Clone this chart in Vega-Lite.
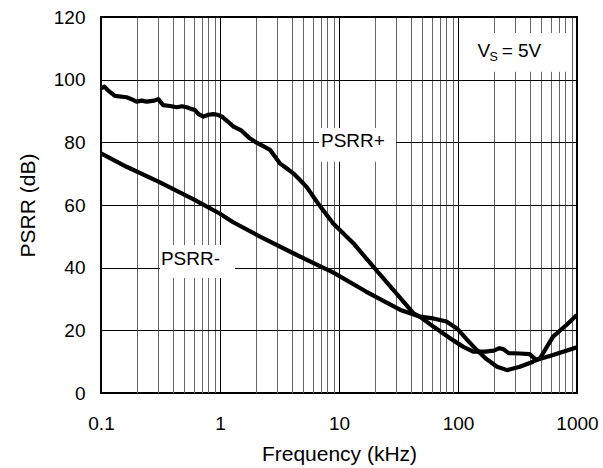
{
  "$schema": "https://vega.github.io/schema/vega-lite/v6.json",
  "width": 476,
  "height": 376,
  "autosize": {"type": "none"},
  "padding": {"left": 101, "top": 17, "right": 26, "bottom": 75},
  "background": "white",
  "config": {
    "view": {"stroke": "black", "strokeWidth": 2},
    "font": "Liberation Sans",
    "axis": {"labelFont": "Liberation Sans", "titleFont": "Liberation Sans", "labelColor": "black", "titleColor": "black", "titleFontWeight": "normal"}
  },
  "datasets": {
    "curves": [
      {"series": "PSRR+", "f": 0.1, "db": 97.2},
      {"series": "PSRR+", "f": 0.107, "db": 97.8},
      {"series": "PSRR+", "f": 0.115, "db": 96.5},
      {"series": "PSRR+", "f": 0.131, "db": 94.8},
      {"series": "PSRR+", "f": 0.164, "db": 94.4},
      {"series": "PSRR+", "f": 0.18, "db": 93.8},
      {"series": "PSRR+", "f": 0.199, "db": 93.0},
      {"series": "PSRR+", "f": 0.22, "db": 93.3},
      {"series": "PSRR+", "f": 0.242, "db": 93.0},
      {"series": "PSRR+", "f": 0.28, "db": 93.3},
      {"series": "PSRR+", "f": 0.303, "db": 93.8},
      {"series": "PSRR+", "f": 0.333, "db": 91.9},
      {"series": "PSRR+", "f": 0.38, "db": 91.6},
      {"series": "PSRR+", "f": 0.432, "db": 91.2},
      {"series": "PSRR+", "f": 0.48, "db": 91.5},
      {"series": "PSRR+", "f": 0.525, "db": 91.2},
      {"series": "PSRR+", "f": 0.58, "db": 90.6},
      {"series": "PSRR+", "f": 0.617, "db": 90.3},
      {"series": "PSRR+", "f": 0.66, "db": 89.0},
      {"series": "PSRR+", "f": 0.725, "db": 88.2},
      {"series": "PSRR+", "f": 0.8, "db": 88.8},
      {"series": "PSRR+", "f": 0.88, "db": 89.0},
      {"series": "PSRR+", "f": 0.95, "db": 88.8},
      {"series": "PSRR+", "f": 1.04, "db": 88.2},
      {"series": "PSRR+", "f": 1.15, "db": 86.8},
      {"series": "PSRR+", "f": 1.3, "db": 85.0},
      {"series": "PSRR+", "f": 1.52, "db": 83.7},
      {"series": "PSRR+", "f": 1.75, "db": 81.5},
      {"series": "PSRR+", "f": 2.03, "db": 79.9},
      {"series": "PSRR+", "f": 2.35, "db": 78.6},
      {"series": "PSRR+", "f": 2.63, "db": 77.6},
      {"series": "PSRR+", "f": 3.18, "db": 73.3},
      {"series": "PSRR+", "f": 3.6, "db": 71.8},
      {"series": "PSRR+", "f": 4.13, "db": 70.1},
      {"series": "PSRR+", "f": 4.7, "db": 68.0},
      {"series": "PSRR+", "f": 5.34, "db": 65.8},
      {"series": "PSRR+", "f": 6.67, "db": 60.5},
      {"series": "PSRR+", "f": 8.9, "db": 54.2},
      {"series": "PSRR+", "f": 13.2, "db": 47.8},
      {"series": "PSRR+", "f": 19.4, "db": 40.3},
      {"series": "PSRR+", "f": 28.6, "db": 32.9},
      {"series": "PSRR+", "f": 42.3, "db": 25.4},
      {"series": "PSRR+", "f": 47.7, "db": 24.4},
      {"series": "PSRR+", "f": 62, "db": 23.8},
      {"series": "PSRR+", "f": 80, "db": 22.8},
      {"series": "PSRR+", "f": 98, "db": 20.6},
      {"series": "PSRR+", "f": 120, "db": 16.9},
      {"series": "PSRR+", "f": 144, "db": 13.7},
      {"series": "PSRR+", "f": 170, "db": 11.1},
      {"series": "PSRR+", "f": 213, "db": 8.4},
      {"series": "PSRR+", "f": 259, "db": 7.3},
      {"series": "PSRR+", "f": 331, "db": 8.4},
      {"series": "PSRR+", "f": 427, "db": 10.0},
      {"series": "PSRR+", "f": 489, "db": 11.1},
      {"series": "PSRR+", "f": 629, "db": 18.0},
      {"series": "PSRR+", "f": 815, "db": 21.7},
      {"series": "PSRR+", "f": 1000, "db": 24.9},
      {"series": "PSRR-", "f": 0.1, "db": 76.5},
      {"series": "PSRR-", "f": 0.164, "db": 72.2},
      {"series": "PSRR-", "f": 0.313, "db": 67.2},
      {"series": "PSRR-", "f": 0.6, "db": 61.8},
      {"series": "PSRR-", "f": 1.0, "db": 57.2},
      {"series": "PSRR-", "f": 1.29, "db": 54.5},
      {"series": "PSRR-", "f": 2.17, "db": 49.9},
      {"series": "PSRR-", "f": 4.13, "db": 44.6},
      {"series": "PSRR-", "f": 6.9, "db": 40.5},
      {"series": "PSRR-", "f": 8.9, "db": 38.5},
      {"series": "PSRR-", "f": 17, "db": 32.3},
      {"series": "PSRR-", "f": 32.8, "db": 26.5},
      {"series": "PSRR-", "f": 47.7, "db": 24.4},
      {"series": "PSRR-", "f": 62, "db": 21.2},
      {"series": "PSRR-", "f": 85.8, "db": 17.5},
      {"series": "PSRR-", "f": 110, "db": 14.8},
      {"series": "PSRR-", "f": 134, "db": 13.2},
      {"series": "PSRR-", "f": 170, "db": 13.2},
      {"series": "PSRR-", "f": 200, "db": 13.5},
      {"series": "PSRR-", "f": 223, "db": 14.3},
      {"series": "PSRR-", "f": 240, "db": 14.0},
      {"series": "PSRR-", "f": 266, "db": 12.7},
      {"series": "PSRR-", "f": 330, "db": 12.6},
      {"series": "PSRR-", "f": 400, "db": 12.4},
      {"series": "PSRR-", "f": 456, "db": 10.5},
      {"series": "PSRR-", "f": 629, "db": 12.1},
      {"series": "PSRR-", "f": 1000, "db": 14.6}
    ],
    "boxes": [
      {"f": 126, "f2": 840, "db": 102.5, "db2": 114.9},
      {"f": 6.79, "f2": 30.1, "db": 73.8, "db2": 84.6},
      {"f": 0.313, "f2": 1.336, "db": 36.7, "db2": 47.2}
    ],
    "labels": [
      {"text": "PSRR+", "f": 7.06, "db": 80.3},
      {"text": "PSRR-", "f": 0.319, "db": 42.8},
      {"text": "V", "f": 146, "db": 109.3},
      {"text": "= 5V", "f": 232.8, "db": 109.3}
    ],
    "subs": [
      {"text": "S", "f": 184, "db": 107.2}
    ]
  },
  "encoding": {
    "x": {
      "field": "f",
      "type": "quantitative",
      "scale": {"type": "log", "domain": [0.1, 1000], "nice": false},
      "axis": {
        "title": "Frequency (kHz)",
        "titleFontSize": 21,
        "titlePadding": 10,
        "labelFontSize": 19,
        "labelPadding": 21,
        "labelFlush": false,
        "ticks": false,
        "tickSize": 0,
        "domain": false,
        "values": [0.1,0.2,0.3,0.4,0.5,0.6,0.7,0.8,0.9,1,2,3,4,5,6,7,8,9,10,20,30,40,50,60,70,80,90,100,200,300,400,500,600,700,800,900,1000],
        "labelExpr": "abs(log(datum.value)/LN10 - round(log(datum.value)/LN10)) < 0.000001 ? format(datum.value, '~g') : ''",
        "labelOverlap": false,
        "grid": true,
        "gridOpacity": 1,
        "gridWidth": 1,
        "gridColor": {
          "condition": {"test": "abs(log(datum.value)/LN10 - round(log(datum.value)/LN10)) < 0.000001", "value": "#000000"},
          "value": "#666666"
        }
      }
    },
    "y": {
      "field": "db",
      "type": "quantitative",
      "scale": {"domain": [0, 120], "nice": false},
      "axis": {
        "title": "PSRR (dB)",
        "titleFontSize": 21,
        "titlePadding": 15,
        "labelFontSize": 19,
        "labelPadding": 16,
        "labelFlush": false,
        "ticks": false,
        "tickSize": 0,
        "domain": false,
        "values": [0, 20, 40, 60, 80, 100, 120],
        "grid": true,
        "gridColor": "#000000",
        "gridOpacity": 1,
        "gridWidth": 1
      }
    }
  },
  "layer": [
    {
      "data": {"name": "boxes"},
      "mark": {"type": "rect", "fill": "white", "stroke": null},
      "encoding": {"x2": {"field": "f2"}, "y2": {"field": "db2"}}
    },
    {
      "data": {"name": "curves"},
      "mark": {"type": "line", "color": "black", "strokeWidth": 4.2, "clip": true, "strokeJoin": "round"},
      "encoding": {"detail": {"field": "series"}}
    },
    {
      "data": {"name": "labels"},
      "mark": {"type": "text", "align": "left", "baseline": "middle", "fontSize": 19, "color": "black", "font": "Liberation Sans"},
      "encoding": {"text": {"field": "text"}}
    },
    {
      "data": {"name": "subs"},
      "mark": {"type": "text", "align": "left", "baseline": "middle", "fontSize": 12.5, "color": "black", "font": "Liberation Sans"},
      "encoding": {"text": {"field": "text"}}
    }
  ]
}
